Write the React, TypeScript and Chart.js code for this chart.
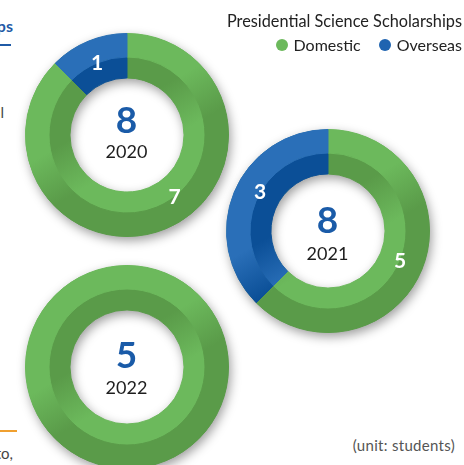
import React, { useEffect, useRef } from "react";
import { Chart, registerables } from "chart.js";

Chart.register(...registerables);

// ---- data ----
const years = ["2020", "2021", "2022"];
const categories = ["Domestic", "Overseas"];
const domestic = [7, 5, 5];
const overseas = [1, 3, 0];
const legendTitle = "Presidential Science Scholarships";
const unitLabel = "(unit: students)";

// ---- styles ----
const GREEN_LIGHT = "#6cb95c";
const GREEN_DARK = "#5a9b49";
const BLUE_LIGHT = "#2a6fb8";
const BLUE_DARK = "#0b4f97";
const NUM_BLUE = "#1a5ba8";
const FONT = "Lato, 'Open Sans', sans-serif";

const CANVAS = 240;
const PAD = 18;

// chart centers and per-chart text placement
const centers = [
  { x: 126.5, y: 134.5, numDy: -16, yearDy: 16, labelShift: [-15, 0] },
  { x: 327.5, y: 230.5, numDy: -12, yearDy: 22, labelShift: [0, 7] },
  { x: 126.5, y: 367, numDy: -13, yearDy: 20, labelShift: [0, 0] },
];

function ringColor(ctx: any, ring: number) {
  const chart = ctx.chart;
  const area = chart.chartArea;
  if (!area) return ring === 0 ? GREEN_LIGHT : GREEN_DARK;
  const cx = (area.left + area.right) / 2;
  const cy = (area.top + area.bottom) / 2;
  const R = Math.min(area.width, area.height) / 2;
  const ang = (150 * Math.PI) / 180;
  const dx = Math.sin(ang) * R;
  const dy = -Math.cos(ang) * R;
  const g = chart.ctx.createLinearGradient(cx - dx, cy - dy, cx + dx, cy + dy);
  const pal = ctx.dataIndex === 0 ? [GREEN_LIGHT, GREEN_DARK] : [BLUE_LIGHT, BLUE_DARK];
  const [a, b] = ring === 0 ? pal : [pal[1], pal[0]];
  g.addColorStop(0, a);
  g.addColorStop(0.38, a);
  g.addColorStop(0.62, b);
  g.addColorStop(1, b);
  return g;
}

const shadowPlugin = {
  id: "ringShadow",
  beforeDatasetsDraw(chart: any) {
    const outer = chart.getDatasetMeta(0).data[0];
    const inner = chart.getDatasetMeta(1).data[0];
    if (!outer || !inner) return;
    const ctx = chart.ctx;
    ctx.save();
    ctx.beginPath();
    ctx.arc(outer.x, outer.y, outer.outerRadius, 0, Math.PI * 2);
    ctx.arc(outer.x, outer.y, inner.innerRadius, 0, Math.PI * 2, true);
    ctx.closePath();
    ctx.shadowColor = "rgba(0,0,0,0.4)";
    ctx.shadowBlur = 11;
    ctx.shadowOffsetX = 2;
    ctx.shadowOffsetY = 4;
    ctx.fillStyle = GREEN_DARK;
    ctx.fill("evenodd");
    ctx.restore();
  },
};

const labelPlugin = {
  id: "ringLabels",
  afterDatasetsDraw(chart: any, _args: any, opts: any) {
    const meta = chart.getDatasetMeta(0);
    const inner = chart.getDatasetMeta(1).data[0];
    const values = chart.data.datasets[0].data as number[];
    const nonZero = values.filter((v) => v > 0).length;
    if (nonZero < 2) return;
    const ctx = chart.ctx;
    ctx.save();
    ctx.fillStyle = "#ffffff";
    ctx.font = `bold 21px ${FONT}`;
    ctx.textAlign = "center";
    ctx.textBaseline = "middle";
    meta.data.forEach((arc: any, i: number) => {
      if (!values[i]) return;
      const shift = ((opts.shift && opts.shift[i]) || 0) * (Math.PI / 180);
      const mid = (arc.startAngle + arc.endAngle) / 2 + shift;
      const r = (arc.innerRadius + inner.innerRadius) / 2 + 2;
      const lr = Math.max(r, 78);
      ctx.fillText(String(values[i]), arc.x + Math.cos(mid) * lr, arc.y + Math.sin(mid) * lr);
    });
    ctx.restore();
  },
};

function Donut({ index }: { index: number }) {
  const ref = useRef<HTMLCanvasElement | null>(null);
  useEffect(() => {
    if (!ref.current) return;
    const values = [domestic[index], overseas[index]];
    const chart = new Chart(ref.current, {
      type: "doughnut",
      data: {
        labels: categories,
        datasets: [
          {
            data: values,
            weight: 1.12,
            backgroundColor: (c: any) => ringColor(c, 0),
            borderColor: (c: any) => ringColor(c, 0),
            borderWidth: 1,
          },
          {
            data: values,
            weight: 1,
            backgroundColor: (c: any) => ringColor(c, 1),
            borderColor: (c: any) => ringColor(c, 1),
            borderWidth: 1,
          },
        ],
      },
      options: {
        responsive: false,
        animation: false,
        events: [],
        cutout: "56.2%",
        layout: { padding: PAD },
        plugins: {
          legend: { display: false },
          tooltip: { enabled: false },
          ringLabels: { shift: centers[index].labelShift },
        } as any,
      },
      plugins: [shadowPlugin, labelPlugin],
    });
    return () => chart.destroy();
  }, [index]);

  const c = centers[index];
  const total = domestic[index] + overseas[index];
  return (
    <>
      <canvas
        ref={ref}
        width={CANVAS}
        height={CANVAS}
        style={{
          position: "absolute",
          left: c.x - CANVAS / 2,
          top: c.y - CANVAS / 2,
          width: CANVAS,
          height: CANVAS,
        }}
      />
      <div
        style={{
          position: "absolute",
          left: c.x - 40,
          top: c.y + c.numDy - 22,
          width: 80,
          height: 44,
          lineHeight: "44px",
          textAlign: "center",
          fontFamily: FONT,
          fontWeight: 700,
          fontSize: 37,
          color: NUM_BLUE,
        }}
      >
        {total}
      </div>
      <div
        style={{
          position: "absolute",
          left: c.x - 40,
          top: c.y + c.yearDy - 12,
          width: 80,
          height: 24,
          lineHeight: "24px",
          textAlign: "center",
          fontFamily: FONT,
          fontSize: 18,
          color: "#1e1e1e",
        }}
      >
        {years[index]}
      </div>
    </>
  );
}

export default function App() {
  return (
    <div
      style={{
        position: "fixed",
        left: 0,
        top: 0,
        width: 464,
        height: 465,
        overflow: "hidden",
        background: "#ffffff",
        fontFamily: FONT,
      }}
    >
      {/* clipped neighbouring page content */}
      <div
        style={{
          position: "absolute",
          right: 464 - 13,
          top: 16,
          whiteSpace: "nowrap",
          fontSize: 16,
          fontWeight: 700,
          color: "#1f5aa6",
          lineHeight: "20px",
        }}
      >
        Scholarships
      </div>
      <div style={{ position: "absolute", left: 0, top: 44, width: 11, height: 2, background: "#1f5aa6" }} />
      <div
        style={{
          position: "absolute",
          right: 464 - 4,
          top: 102,
          whiteSpace: "nowrap",
          fontSize: 15,
          color: "#444",
          lineHeight: "20px",
        }}
      >
        national
      </div>
      <div style={{ position: "absolute", left: 0, top: 430, width: 17, height: 2, background: "#f0a030" }} />
      <div
        style={{
          position: "absolute",
          right: 464 - 13,
          top: 443,
          whiteSpace: "nowrap",
          fontSize: 15,
          color: "#444",
          lineHeight: "20px",
        }}
      >
        to,
      </div>

      {years.map((_, i) => (
        <Donut key={i} index={i} />
      ))}

      {/* legend */}
      <div
        style={{
          position: "absolute",
          right: 2,
          top: 11,
          whiteSpace: "nowrap",
          fontSize: 16.3,
          color: "#222",
          lineHeight: "20px",
        }}
      >
        {legendTitle}
      </div>
      <div
        style={{
          position: "absolute",
          right: 2,
          top: 35,
          whiteSpace: "nowrap",
          fontSize: 16,
          color: "#222",
          lineHeight: "20px",
          display: "flex",
          alignItems: "center",
        }}
      >
        {categories.map((cat, i) => (
          <span key={cat} style={{ display: "flex", alignItems: "center", marginLeft: i === 0 ? 0 : 18 }}>
            <span
              style={{
                display: "inline-block",
                width: 12,
                height: 12,
                borderRadius: 6,
                background: i === 0 ? GREEN_LIGHT : "#1f64b0",
                marginRight: 6,
              }}
            />
            {cat}
          </span>
        ))}
      </div>

      <div
        style={{
          position: "absolute",
          right: 9,
          top: 435,
          whiteSpace: "nowrap",
          fontSize: 15,
          letterSpacing: 0.3,
          color: "#555",
          lineHeight: "20px",
        }}
      >
        {unitLabel}
      </div>
    </div>
  );
}
